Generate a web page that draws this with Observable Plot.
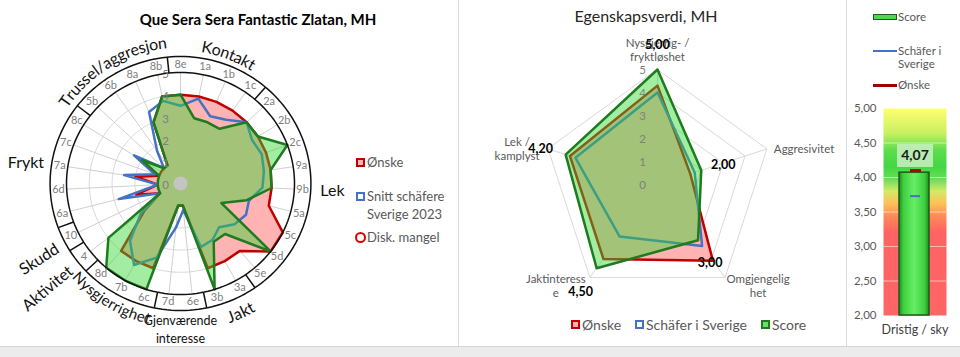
<!DOCTYPE html>
<html><head><meta charset="utf-8">
<script src="https://cdn.jsdelivr.net/npm/d3@7"></script>
<script src="https://cdn.jsdelivr.net/npm/@observablehq/plot@0.6"></script>
<style>
html,body{margin:0;padding:0;background:#fff;}
#wrap{position:relative;width:960px;height:357px;overflow:hidden;background:#fff;font-family:Lato,sans-serif;color:#595959;}
</style></head>
<body><div id="wrap"></div>
<script>
// ---------------- DATA ----------------
// Left radar (MH subtests)
const items = ["8e","1a","1b","1c","2a","2b","2c","9a","9b","5a","5c","5d","5e","3a","3b","6e","7d","6c","7b","8d","4","10","6a","6d","7a","7c","8c","5b","6b","8a","8b"];
const onske = [4,4,4,4,4,4,4,4,4,4,5,5,4,4,4,1,1,4,4,4,2,1,2,1,2,1,1,1,1,3,4];
const snitt = [3.5,3.9,3.3,3.5,4,3.7,3.8,3.7,3.6,3.1,3.2,3,2.6,2.9,3,1.2,2,3.5,4.2,3.4,2.2,1,2.8,1,2.5,1.2,2.4,1,1.8,3.5,3.8];
const score = [4,3,3,3,4,4,5,4,4,3,2,5,3,3,5,1,1,5,5,5,4,1,1,1,1,1,2,1,1,3,4];
const groupNames = ["Kontakt","Lek","Jakt","Gjenværende\ninteresse","Nysgjerrighet","Aktivitet","Skudd","Frykt","Trussel/aggresjon"];
const groupSizes = [4,9,2,2,3,1,1,5,4];
const ticks1 = [0,1,2,3,4,5];
const legend1 = ["Ønske","Snitt schäfere<br>Sverige 2023","Disk. mangel"];

// Middle radar (Egenskapsverdi)
const traits = ["Nysgjerrig- /\nfryktløshet","Aggresivitet","Omgjengelig\nhet","Jaktinteress\ne","Lek /\nkamplyst"];
const score2 = [5.00,2.00,3.00,4.50,4.20];
const onske2 = [4.3,1.5,4.1,4.0,4.0];
const sverige2 = [4.0,1.7,3.3,2.8,3.75];
const ticks2 = [0,1,2,3,4,5];
const legend2 = ["Ønske","Schäfer i Sverige","Score"];

// Right bullet (Dristig / sky)
const cat3 = ["Dristig / sky"];
const score3 = [4.07];
const sverige3 = [3.73];
const onske3 = [4.10];
const ticks3 = [2,2.5,3,3.5,4,4.5,5];
const legend3 = ["Score","Schäfer i<br>Sverige","Ønske"];

// ---------------- HELPERS ----------------
const wrap = document.getElementById("wrap");
function el(css, html){ const e=document.createElement("div"); e.style.cssText="position:absolute;"+css; if(html!=null) e.innerHTML=html; wrap.appendChild(e); return e; }
function txt(html, x, yc, size, color, extra){ return el(`left:${x}px;top:${yc}px;transform:translateY(-50%);font-size:${size}px;color:${color};white-space:nowrap;line-height:1.25;${extra||""}`, html); }
const rad = d => d*Math.PI/180;
const fmt = d => d.toFixed(2).replace(".", ",");
const ctx = document.createElement("canvas").getContext("2d");
const FONT = "Lato, sans-serif";
const GREEN = "#33d633", GREEN_OP = 0.45, PINK = "#ffb3b3";

// frame
el("left:0;top:346px;width:960px;height:11px;background:#ececec;border-top:1px solid #d4d4d4;");
el("left:458px;top:0;width:1px;height:346px;background:#d9d9d9;");
el("left:846px;top:0;width:1px;height:346px;background:#d9d9d9;");

// ---------------- PANEL 1 ----------------
const P1 = {w:458, h:346, cx:180, cy:183, rx:114, ry:111};
const ux = P1.rx/5, uy = P1.ry/5;
const N = items.length, step = 360/N;
const polar = (v,deg) => ({x: v*Math.sin(rad(deg)), y: v*Math.cos(rad(deg))});
const polarPx = (R,deg) => ({x: R*Math.sin(rad(deg))/ux, y: R*Math.cos(rad(deg))/uy});
const ser = vals => vals.map((v,i) => ({...polar(v, i*step), v, item: items[i]}));
const circ = (rs) => rs.flatMap(r => d3.range(0, 361, 2).map(a => ({r, ...polar(r, a)})));
const spokes = items.map((d,i) => ({item:d, ...polar(5, i*step)}));
const itemLab = items.map((d,i) => ({item:d, ...polar(5.36, i*step)}));
const starts = d3.cumsum([0, ...groupSizes.slice(0,-1)]);
const dividers = Array.from(starts, s => { const a=(s-0.5)*step; const p=polar(5,a), q=polar(5.72,a); return {x1:p.x,y1:p.y,x2:q.x,y2:q.y}; });

// group label layout
const GL = [
  {type:"arc", c:20.5, R:138, bottom:false, size:16},
  {type:"h", c:93, R:140, anchor:"start", size:16},
  {type:"arc", c:155, R:143, bottom:true, size:16},
  {type:"hc", c:180, R:145, size:12.5},
  {type:"arc", c:211, R:139, bottom:true, size:15},
  {type:"rot", c:232, R:139, rotate:-40, size:16},
  {type:"rot", c:242.5, R:138.6, rotate:-33, size:16},
  {type:"h", c:278.7, R:138, anchor:"end", size:16},
  {type:"arc", c:329, R:141, bottom:false, size:16}
];
function arcChars(text, c, R, bottom, size){
  ctx.font = `${size}px Lato`;
  const chars=[...text]; const w=chars.map(ch=>ctx.measureText(ch).width); const tot=d3.sum(w);
  let acc=0; return chars.map((ch,k)=>{ const mid=acc+w[k]/2-tot/2; acc+=w[k]; const d=mid/R*180/Math.PI; const a=bottom?c-d:c+d; return {ch, ...polarPx(R,a), rot: bottom? a-180 : a}; });
}
const gMarks = groupNames.map((name,g) => {
  const L = GL[g];
  if (L.type==="arc") return Plot.text(arcChars(name, L.c, L.R, L.bottom, L.size), {x:"x", y:"y", text:"ch", rotate:"rot", fontSize:L.size, fill:"#111", textAnchor:"middle", lineAnchor:"middle"});
  const p = polarPx(L.R, L.c);
  if (L.type==="h") return Plot.text([{...p, name}], {x:"x", y:"y", text:"name", fontSize:L.size, fill:"#111", textAnchor:L.anchor});
  if (L.type==="hc") return Plot.text([{...p, name}], {x:"x", y:"y", text:"name", fontSize:L.size, lineHeight:1.4, fill:"#111", textAnchor:"middle"});
  return Plot.text([{...p, name}], {x:"x", y:"y", text:"name", fontSize:L.size, fill:"#111", textAnchor:"end", rotate:L.rotate});
});

const plot1 = Plot.plot({
  width:P1.w, height:P1.h, margin:0,
  x:{domain:[-P1.cx/ux, (P1.w-P1.cx)/ux], axis:null},
  y:{domain:[-(P1.h-P1.cy)/uy, P1.cy/uy], axis:null},
  style:{fontFamily:FONT, background:"transparent", overflow:"visible"},
  marks:[
    Plot.line(circ([1,2,3,4]), {x:"x", y:"y", z:"r", stroke:"#d9d9d9", strokeWidth:1}),
    Plot.link(spokes, {x1:0, y1:0, x2:"x", y2:"y", stroke:"#d0d0d0", strokeWidth:1}),
    Plot.line(ser(onske), {x:"x", y:"y", curve:"linear-closed", fill:PINK, stroke:"#c00000", strokeWidth:2.5}),
    Plot.line(ser(snitt), {x:"x", y:"y", curve:"linear-closed", stroke:"#4472c4", strokeWidth:2.5}),
    Plot.line(ser(score), {x:"x", y:"y", curve:"linear-closed", fill:GREEN, fillOpacity:GREEN_OP, stroke:"#1e7b1e", strokeWidth:2.5}),
    Plot.dot([{x:0,y:0}], {x:"x", y:"y", r:7, fill:"#c4c4c4"}),
    Plot.line(circ([5,5.72]), {x:"x", y:"y", z:"r", stroke:"#111", strokeWidth:1.5}),
    Plot.link(dividers, {x1:"x1", y1:"y1", x2:"x2", y2:"y2", stroke:"#111", strokeWidth:1.5}),
    Plot.text(itemLab, {x:"x", y:"y", text:"item", fontSize:11, fill:"#808080"}),
    Plot.text(ticks1, {x:0, y:d=>d, text:d=>String(d), dx:-15, dy:2, fontSize:11.5, fill:"#808080"}),
    ...gMarks
  ]
});
plot1.style.position="absolute"; plot1.style.left="0px"; plot1.style.top="0px";
wrap.appendChild(plot1);
txt("Que Sera Sera Fantastic Zlatan, MH", 258, 19, 15, "#000", "font-weight:700;transform:translate(-50%,-50%);");

// legend 1
el("left:356px;top:158px;width:5px;height:5px;border:2px solid #c00000;background:#ffb3b3;");
txt(legend1[0], 367, 162, 13, "#595959");
el("left:356px;top:192px;width:5px;height:5px;border:2px solid #4472c4;background:#fff;");
txt(legend1[1], 367, 205, 13, "#595959", "line-height:1.4;");
el("left:355px;top:232px;width:7px;height:7px;border:2px solid #e00000;border-radius:50%;background:#fff;");
txt(legend1[2], 367, 237, 13, "#595959");

// ---------------- PANEL 2 ----------------
const P2 = {left:458, w:388, h:346, cx:199, cy:184, r:115};
const u2 = P2.r/5;
const K = traits.length;
const pol2 = (v,k) => ({x: v*Math.sin(rad(k*360/K)), y: v*Math.cos(rad(k*360/K))});
const ser2 = vals => vals.map((v,k) => ({...pol2(v,k), v, trait: traits[k]}));
const grid2 = [1,2,3,4,5].flatMap(r => traits.map((t,k)=>({r, ...pol2(r,k)})));
const spokes2 = traits.map((t,k)=>({...pol2(5,k)}));
const axLay = [
  {dx:0, dy:-9, anchor:"middle", line:"bottom"},
  {dx:7, dy:0, anchor:"start", line:"middle"},
  {dx:33, dy:8, anchor:"middle", line:"middle"},
  {dx:-34, dy:8, anchor:"middle", line:"middle"},
  {dx:-31, dy:0, anchor:"middle", line:"middle"}
];
const dlLay = [[0,-25],[22,-5],[12,23],[-16,24],[-25,-6]];
const plot2 = Plot.plot({
  width:P2.w, height:P2.h, margin:0,
  x:{domain:[-P2.cx/u2, (P2.w-P2.cx)/u2], axis:null},
  y:{domain:[-(P2.h-P2.cy)/u2, P2.cy/u2], axis:null},
  style:{fontFamily:FONT, background:"transparent", overflow:"visible"},
  marks:[
    Plot.line(grid2, {x:"x", y:"y", z:"r", curve:"linear-closed", stroke:"#d9d9d9", strokeWidth:1}),
    Plot.link(spokes2, {x1:0, y1:0, x2:"x", y2:"y", stroke:"#d9d9d9"}),
    Plot.line(ser2(onske2), {x:"x", y:"y", curve:"linear-closed", fill:PINK, stroke:"#c00000", strokeWidth:2.5}),
    Plot.line(ser2(sverige2), {x:"x", y:"y", curve:"linear-closed", stroke:"#4472c4", strokeWidth:2.5}),
    Plot.line(ser2(score2), {x:"x", y:"y", curve:"linear-closed", fill:GREEN, fillOpacity:GREEN_OP, stroke:"#1e7b1e", strokeWidth:2.5}),
    Plot.text(ticks2, {x:0, y:d=>d, text:d=>String(d), dx:-15, dy:1, fontSize:11.5, fill:"#808080"}),
    ...traits.map((t,k)=>Plot.text([{...pol2(5,k), t}], {x:"x", y:"y", text:"t", dx:axLay[k].dx, dy:axLay[k].dy, textAnchor:axLay[k].anchor, lineAnchor:axLay[k].line, fontSize:11.5, fill:"#595959", lineHeight:1.2})),
    ...score2.map((v,k)=>Plot.text([{...pol2(v,k), v}], {x:"x", y:"y", text:d=>fmt(d.v), dx:dlLay[k][0], dy:dlLay[k][1], fontSize:12.5, fontWeight:"bold", fill:"#000"}))
  ]
});
plot2.style.position="absolute"; plot2.style.left=P2.left+"px"; plot2.style.top="0px";
wrap.appendChild(plot2);
txt("Egenskapsverdi, MH", 646, 16, 16, "#262626", "transform:translate(-50%,-50%);");
// legend 2
el("left:571px;top:320px;width:5px;height:5px;border:2px solid #c00000;background:#ffb3b3;");
txt(legend2[0], 582, 325, 14, "#595959");
el("left:635px;top:320px;width:5px;height:5px;border:2px solid #4472c4;background:#fff;");
txt(legend2[1], 646, 325, 14, "#595959");
el("left:761px;top:320px;width:5px;height:5px;border:2px solid #1e7b1e;background:#6fdc6f;");
txt(legend2[2], 772, 325, 14, "#595959");

// ---------------- PANEL 3 ----------------
const d3data = cat3.map((c,i)=>({cat:c, score:score3[i], sverige:sverige3[i], onske:onske3[i]}));
const yMin3 = ticks3[0];
const plot3 = Plot.plot({
  width:114, height:346, marginLeft:37, marginRight:14, marginTop:108, marginBottom:31,
  x:{domain:cat3, padding:0, axis:null},
  y:{domain:[yMin3, ticks3[ticks3.length-1]], axis:null},
  style:{fontFamily:FONT, background:"transparent", overflow:"visible"},
  marks:[
    Plot.frame({fill:"url(#bg3)", stroke:"none"}),
    Plot.ruleY(ticks3.slice(1,-1), {stroke:"#fff", strokeOpacity:0.55}),
    Plot.barY(d3data, {x:"cat", y1:()=>yMin3, y2:"score", fill:"url(#bar3)", stroke:"#1f5a1f", strokeWidth:1.5, insetLeft:16, insetRight:17}),
    Plot.tickY(d3data, {x:"cat", y:"onske", stroke:"#b00000", strokeWidth:3, insetLeft:27, insetRight:25}),
    Plot.tickY(d3data, {x:"cat", y:"sverige", stroke:"#4472c4", strokeWidth:2, insetLeft:27, insetRight:26}),
    Plot.barY(d3data, {x:"cat", y1:d=>d.score+0.075, y2:d=>d.score+0.41, fill:"#c9efc2", fillOpacity:0.85, insetLeft:14, insetRight:13}),
    Plot.text(d3data, {x:"cat", y:d=>d.score+0.245, text:d=>fmt(d.score), fontWeight:"bold", fontSize:14, fill:"#1a1a1a"}),
    Plot.axisY({ticks:ticks3, tickFormat:fmt, tickSize:0, tickPadding:7, fontSize:11.5, fill:"#595959", label:null}),
    Plot.axisX({tickSize:0, tickPadding:10, fontSize:12.5, fill:"#404040", label:null})
  ]
});
const defs = d3.select(plot3).insert("defs", ":first-child");
const bg = defs.append("linearGradient").attr("id","bg3").attr("x1",0).attr("y1",0).attr("x2",0).attr("y2",1);
[[0,"#ffff70"],[0.12,"#c8f060"],[0.2,"#5ede4e"],[0.28,"#44d644"],[0.34,"#66de58"],[0.4,"#d4ea66"],[0.46,"#ffbf58"],[0.52,"#ff8a58"],[0.6,"#ff6262"],[1,"#ff6666"]]
  .forEach(([o,c])=>bg.append("stop").attr("offset",o).attr("stop-color",c));
const bar = defs.append("linearGradient").attr("id","bar3").attr("x1",0).attr("y1",0).attr("x2",1).attr("y2",0);
[[0,"#1f8f1f"],[0.15,"#3fcf3f"],[0.5,"#66ee66"],[0.85,"#3fcf3f"],[1,"#1f8f1f"]].forEach(([o,c])=>bar.append("stop").attr("offset",o).attr("stop-color",c));
plot3.style.position="absolute"; plot3.style.left="846px"; plot3.style.top="0px";
wrap.appendChild(plot3);
// legend 3
el("left:873px;top:14px;width:22px;height:4px;border:1px solid #1f5a1f;background:#4ed84e;");
txt(legend3[0], 898, 17, 11.5, "#595959");
el("left:873px;top:50px;width:24px;height:2px;background:#4472c4;");
txt(legend3[1], 898, 57, 11.5, "#595959", "line-height:1.15;");
el("left:873px;top:84px;width:24px;height:3px;background:#a00000;");
txt(legend3[2], 898, 85, 11.5, "#595959");
</script></body></html>
